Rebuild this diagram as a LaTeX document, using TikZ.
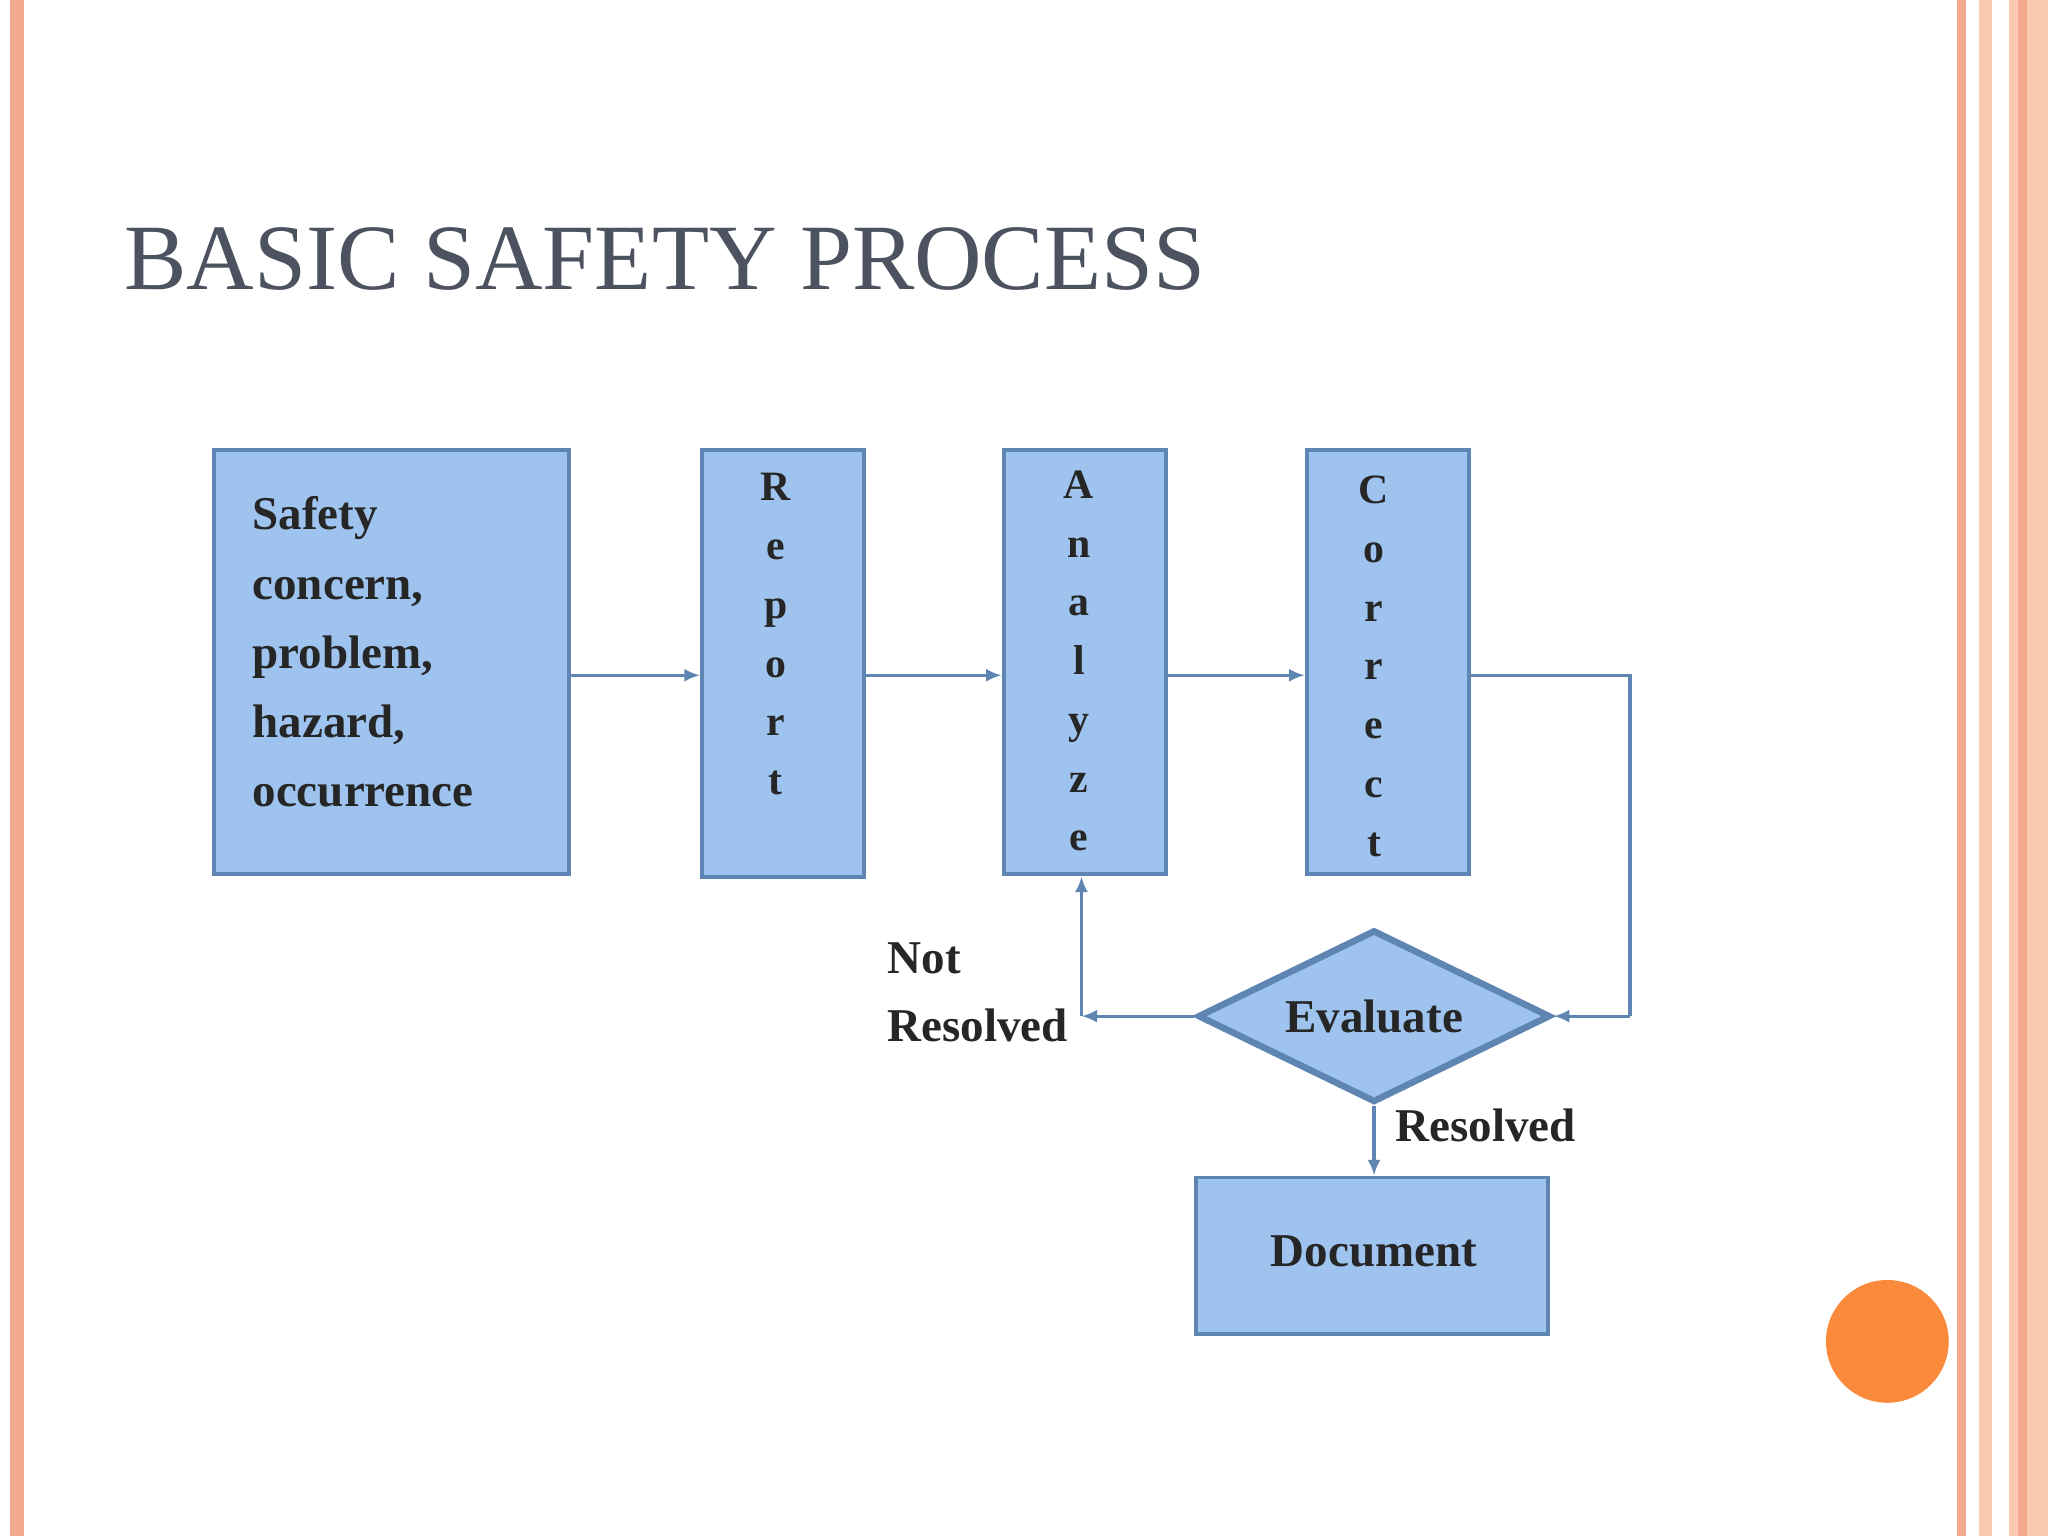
\documentclass[tikz,border=0pt]{standalone}
\usepackage{fontspec}
\setmainfont{Liberation Serif}
\usetikzlibrary{shapes.geometric,arrows.meta}
\definecolor{boxfill}{HTML}{9DC3EE}
\definecolor{boxline}{HTML}{5F86B2}
\definecolor{titlec}{HTML}{4C5260}
\definecolor{salmon}{HTML}{F4A98E}
\definecolor{peach}{HTML}{FBC9B0}
\definecolor{dot}{HTML}{FB8A3C}
\tikzset{
 box/.style={draw=boxline,line width=1.5pt,fill=boxfill,inner sep=0pt},
 lbl/.style={font=\fontsize{18}{26}\selectfont\bfseries,text=black!85,inner sep=0pt},
 conn/.style={draw=boxline,line width=1.2pt,-{Latex[length=6pt,width=5pt]}},
 plain/.style={draw=boxline,line width=1.2pt}
}
\begin{document}
\begin{tikzpicture}[x=0.5pt,y=-0.5pt]
\useasboundingbox (0,0) rectangle (1568,1176);
\fill[white] (0,0) rectangle (1568,1176);
\fill[salmon] (8,0) rectangle (18,1176);
\fill[salmon] (1498,0) rectangle (1505,1176);
\fill[peach] (1515,0) rectangle (1525,1176);
\fill[peach] (1538,0) rectangle (1568,1176);
\fill[salmon] (1545,0) rectangle (1552,1176);
\node[anchor=base west,text=titlec,font=\fontsize{35.8}{40}\selectfont,inner sep=0pt] (title) at (95,222) {BASIC SAFETY PROCESS};
\node[box,minimum width=136pt,minimum height=162.5pt,anchor=north west] (s) at (162,343) {};
\node[lbl,anchor=north west,align=left,font=\fontsize{18}{26.5}\selectfont\bfseries] (st) at (193,380) {Safety\\concern,\\problem,\\hazard,\\occurrence};
\node[box,minimum width=62pt,minimum height=163.5pt,anchor=north west] (r) at (536,343) {};
\node[lbl,align=center,font=\fontsize{16}{22.5}\selectfont\bfseries,anchor=north] at (594,362) {R\\e\\p\\o\\r\\t};
\node[box,minimum width=62pt,minimum height=162.5pt,anchor=north west] (a) at (767,343) {};
\node[lbl,align=center,font=\fontsize{16}{22.5}\selectfont\bfseries,anchor=north] at (826,360) {A\\n\\a\\l\\y\\z\\e};
\node[box,minimum width=62pt,minimum height=162.5pt,anchor=north west] (c) at (999,343) {};
\node[lbl,align=center,font=\fontsize{16}{22.5}\selectfont\bfseries,anchor=north] at (1052,364) {C\\o\\r\\r\\e\\c\\t};
\node[box,diamond,aspect=2.05,minimum width=135pt,minimum height=66pt,line width=2.5pt] (e) at (1052,778) {};
\node[lbl] at (1052,778) {Evaluate};
\node[box,minimum width=135pt,minimum height=60pt,anchor=north west] (d) at (914,900) {};
\node[lbl] at (1052,958) {Document};
\draw[conn] (s.east|-0,517) -- (r.west|-0,517);
\draw[conn] (r.east|-0,517) -- (a.west|-0,517);
\draw[conn] (a.east|-0,517) -- (c.west|-0,517);
\coordinate (k1) at (1248,517);
\coordinate (k2) at (1248,778);
\draw[plain] (c.east|-k1) -- (k1) -- (k2);
\draw[conn] (k2) -- (e.east);
\coordinate (k3) at (828,778);
\draw[conn] (e.west) -- (k3);
\draw[conn] (k3) -- (a.south-|k3);
\draw[conn] (e.south) -- (d.north-|e.south);
\node[lbl,anchor=east,align=left] (nr) at (818,760) {Not\\Resolved};
\node[lbl,anchor=west] (rs) at (1068,862) {Resolved};
\fill[dot] (1445,1027) circle (47);
\end{tikzpicture}
\end{document}
